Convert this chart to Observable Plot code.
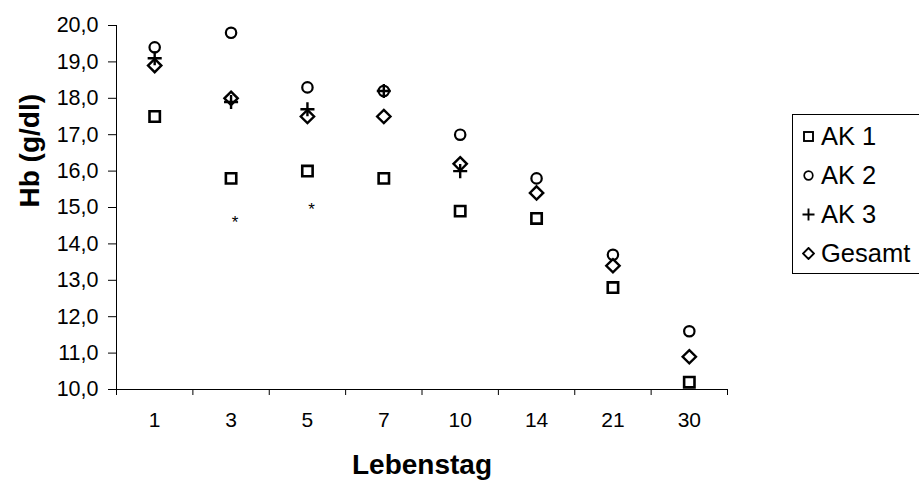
<!DOCTYPE html>
<html>
<head>
<meta charset="utf-8">
<script src="https://cdn.jsdelivr.net/npm/d3@7"></script>
<script src="https://cdn.jsdelivr.net/npm/@observablehq/plot@0.6"></script>
<style>
  html, body { margin: 0; padding: 0; background: #fff; overflow: hidden; width: 919px; height: 483px; }
  #wrap { position: relative; width: 919px; height: 483px; overflow: hidden; font-family: "Liberation Sans", Arial, sans-serif; }
  #legend { position: absolute; left: 792px; top: 114px; width: 170px; height: 160px; border: 1px solid #000; border-right: none; box-sizing: border-box; background: #fff; }
  .item { position: absolute; left: 0; height: 30px; display: flex; align-items: center; font-size: 25.5px; color: #000; white-space: nowrap; }
  .item svg { margin-left: 9px; margin-right: 6px; }
</style>
</head>
<body>
<div id="wrap"><div id="chart"></div><div id="legend"></div></div>
<script>
// ---- data ----
const days    = ["1", "3", "5", "7", "10", "14", "21", "30"];
const ak1     = [17.5, 15.8, 16.0, 15.8, 14.9, 14.7, 12.8, 10.2];
const ak2     = [19.4, 19.8, 18.3, 18.2, 17.0, 15.8, 13.7, 11.6];
const ak3     = [19.1, 17.9, 17.7, 18.2, 16.0, null, null, null];
const gesamt  = [18.9, 18.0, 17.5, 17.5, 16.2, 15.4, 13.4, 10.9];
const sigDays   = ["3", "5"];
const sigValues = [14.7, 15.05];
const yTicks  = [10, 11, 12, 13, 14, 15, 16, 17, 18, 19, 20];
const seriesNames = ["AK 1", "AK 2", "AK 3", "Gesamt"];

const pos = d => days.indexOf(d) + 0.5;
const rows = vals => days.map((d, i) => ({day: d, v: vals[i]})).filter(r => r.v != null);
const sig = sigDays.map((d, i) => ({day: d, v: sigValues[i]}));

const font = "Liberation Sans, Arial, sans-serif";
const chart = Plot.plot({
  width: 919,
  height: 483,
  marginLeft: 116,
  marginRight: 192,
  marginTop: 25,
  marginBottom: 94,
  style: {fontFamily: font, color: "#000", background: "#fff", overflow: "visible"},
  x: {type: "linear", domain: [0, days.length], axis: null},
  y: {domain: [10, 20], axis: null},
  marks: [
    Plot.ruleX([0], {stroke: "#000", strokeWidth: 1}),
    Plot.ruleY([10], {stroke: "#000", strokeWidth: 1}),
    Plot.axisY({ticks: yTicks, tickSize: 8, tickPadding: 10, fontSize: 21.5, label: null,
      tickFormat: d => d.toFixed(1).replace(".", ","), stroke: "#000"}),
    Plot.axisX({ticks: d3.range(0, days.length + 1), tickSize: 6, tickFormat: () => "", label: null, stroke: "#000"}),
    Plot.axisX({ticks: days.map(pos), tickSize: 0, tickPadding: 23, fontSize: 21, label: null,
      tickFormat: t => days[Math.floor(t)]}),
    Plot.text(["Lebenstag"], {frameAnchor: "bottom", dy: 76, fontSize: 28, fontWeight: "bold", lineAnchor: "middle"}),
    Plot.text(["Hb (g/dl)"], {frameAnchor: "left", dx: -86, rotate: -90, fontSize: 28, fontWeight: "bold", lineAnchor: "middle"}),
    Plot.dot(rows(ak1), {x: d => pos(d.day), y: "v", symbol: "square2", r: 6.6, stroke: "#000", strokeWidth: 2.6}),
    Plot.dot(rows(ak2), {x: d => pos(d.day), y: "v", symbol: "circle", r: 5.2, stroke: "#000", strokeWidth: 2.2, fill: "none"}),
    Plot.dot(rows(ak3), {x: d => pos(d.day), y: "v", symbol: "plus", r: 4.6, stroke: "#000", strokeWidth: 2.4}),
    Plot.dot(rows(gesamt), {x: d => pos(d.day), y: "v", symbol: "diamond2", r: 6.0, stroke: "#000", strokeWidth: 2.4}),
    Plot.text(sig, {x: d => pos(d.day), y: "v", text: () => "*", dx: 4, dy: 4, fontSize: 17})
  ]
});
document.getElementById("chart").appendChild(chart);

// ---- legend ----
const legendSym = {
  "AK 1": '<rect x="2" y="2" width="9" height="9" fill="none" stroke="#000" stroke-width="1.9"/>',
  "AK 2": '<circle cx="6.5" cy="6.5" r="4.3" fill="none" stroke="#000" stroke-width="1.7"/>',
  "AK 3": '<path d="M0.5 6.5H12.5M6.5 0.5V12.5" stroke="#000" stroke-width="1.9"/>',
  "Gesamt": '<path d="M6.5 1L12 6.5L6.5 12L1 6.5Z" fill="none" stroke="#000" stroke-width="1.9"/>'
};
const legend = document.getElementById("legend");
seriesNames.forEach((name, i) => {
  const div = document.createElement("div");
  div.className = "item";
  div.style.top = (6 + i * 39) + "px";
  div.innerHTML = '<svg width="13" height="13" viewBox="0 0 13 13">' + legendSym[name] + '</svg><span>' + name + '</span>';
  legend.appendChild(div);
});
</script>
</body>
</html>
